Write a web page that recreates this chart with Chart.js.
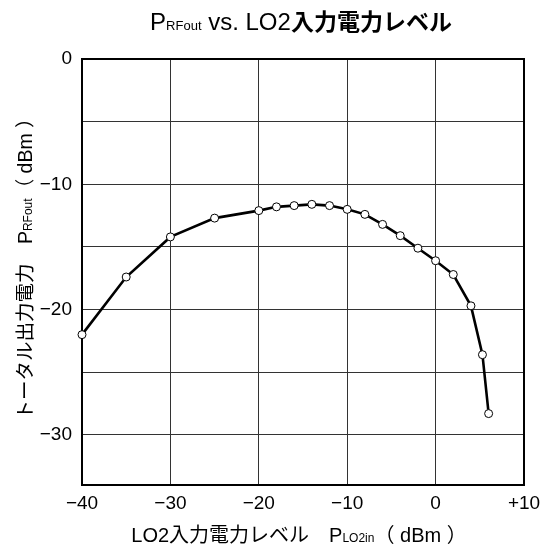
<!DOCTYPE html>
<html>
<head>
<meta charset="utf-8">
<script src="https://cdn.jsdelivr.net/npm/chart.js@4/dist/chart.umd.min.js"></script>
<style>
  html, body { margin: 0; padding: 0; background: #fff; }
  #wrap { width: 542px; height: 546px; }
</style>
</head>
<body>
<div id="wrap"><canvas id="c" width="542" height="546"></canvas></div>
<script>
// LO2 input level (dBm) and total output power PRFout (dBm)
const lo2Level = [-40, -35, -30, -25, -20, -18, -16, -14, -12, -10, -8, -6, -4, -2, 0, 2, 4, 5.3, 6];
const rfOut    = [-22.0, -17.4, -14.2, -12.7, -12.1, -11.8, -11.7, -11.6, -11.7, -12.0, -12.4, -13.2, -14.1, -15.1, -16.1, -17.2, -19.7, -23.6, -28.3];

// axis ticks and labels
const xTicks = [-40, -30, -20, -10, 0, 10];
const xTickLabels = ['\u221240', '\u221230', '\u221220', '\u221210', '0', '+10'];
const yGrid = [-30, -25, -20, -15, -10, -5, 0];
const yTickLabels = { '0': '0', '-10': '\u221210', '-20': '\u221220', '-30': '\u221230' };

const LATIN = '"Liberation Sans", Arial, sans-serif';
const CJK = '"Liberation Sans", "Noto Sans CJK JP", sans-serif';

// draws a run of text pieces with mixed sizes/weights, centred along the run,
// with the baseline at (cx, baseY) in the rotated frame
function drawRich(ctx, parts, cx, baseY, angle) {
  ctx.save();
  ctx.translate(cx, baseY);
  ctx.rotate(angle || 0);
  ctx.textBaseline = 'alphabetic';
  ctx.textAlign = 'left';
  ctx.fillStyle = '#000';
  let total = 0;
  const widths = parts.map(p => {
    ctx.font = (p.bold ? 'bold ' : '') + p.size + 'px ' + CJK;
    const w = ctx.measureText(p.text).width;
    total += w;
    return w;
  });
  let x = -total / 2;
  parts.forEach((p, i) => {
    ctx.font = (p.bold ? 'bold ' : '') + p.size + 'px ' + CJK;
    ctx.fillText(p.text, x, p.dy || 0);
    x += widths[i];
  });
  ctx.restore();
}

const frameAndTitles = {
  id: 'frameAndTitles',
  beforeDatasetsDraw(chart) {
    const { ctx, chartArea: a } = chart;
    ctx.save();
    ctx.strokeStyle = '#000';
    ctx.lineWidth = 2;
    ctx.strokeRect(a.left, a.top, a.right - a.left, a.bottom - a.top);
    ctx.restore();
  },
  afterDraw(chart) {
    const { ctx } = chart;
    // chart title
    ctx.save();
    ctx.translate(301, 30);
    drawRich(ctx, [
      { text: 'P', size: 24 },
      { text: 'RFout', size: 13 },
      { text: ' vs. LO2', size: 24 },
      { text: '入力電力レベル', size: 23, bold: true }
    ], 0, 0);
    ctx.restore();
    // x axis title
    drawRich(ctx, [
      { text: 'LO2入力電力レベル\u3000', size: 20 },
      { text: 'P', size: 20 },
      { text: 'LO2in', size: 12 },
      { text: '（ dBm ）', size: 20 }
    ], 299, 542);
    // y axis title (reads bottom to top)
    ctx.save();
    ctx.translate(32, 264);
    drawRich(ctx, [
      { text: 'トータル出力電力\u3000', size: 19.5 },
      { text: 'P', size: 19.5 },
      { text: 'RFout', size: 12 },
      { text: '（ dBm ）', size: 19.5 }
    ], 0, 0, -Math.PI / 2);
    ctx.restore();
  }
};

new Chart(document.getElementById('c'), {
  type: 'line',
  data: {
    datasets: [{
      data: lo2Level.map((x, i) => ({ x: x, y: rfOut[i] })),
      borderColor: '#000',
      borderWidth: 2.6,
      tension: 0,
      pointRadius: 4,
      pointBorderWidth: 1,
      pointBackgroundColor: '#fff',
      pointBorderColor: '#000',
      clip: false
    }]
  },
  options: {
    responsive: false,
    animation: false,
    devicePixelRatio: 1,
    layout: { padding: { left: 0, right: 18, top: 59, bottom: 0 } },
    plugins: { legend: { display: false }, tooltip: { enabled: false }, title: { display: false } },
    scales: {
      x: {
        type: 'linear',
        min: -40,
        max: 10,
        afterBuildTicks: s => { s.ticks = xTicks.map(v => ({ value: v })); },
        afterFit: s => { s.height = 61; s.paddingLeft = 0; s.paddingRight = 0; },
        grid: { color: '#333', lineWidth: 1, drawTicks: false },
        border: { display: false },
        ticks: {
          padding: 7,
          color: '#000',
          font: { family: LATIN, size: 19 },
          maxRotation: 0,
          callback: v => xTickLabels[xTicks.indexOf(v)]
        }
      },
      y: {
        type: 'linear',
        min: -34,
        max: 0,
        afterBuildTicks: s => { s.ticks = yGrid.map(v => ({ value: v })); },
        afterFit: s => { s.width = 82; s.paddingTop = 0; s.paddingBottom = 0; },
        grid: { color: '#333', lineWidth: 1, drawTicks: false },
        border: { display: false },
        ticks: {
          padding: 10,
          color: '#000',
          font: { family: LATIN, size: 19 },
          callback: v => yTickLabels[String(v)] || ''
        }
      }
    }
  },
  plugins: [frameAndTitles]
});
</script>
</body>
</html>
